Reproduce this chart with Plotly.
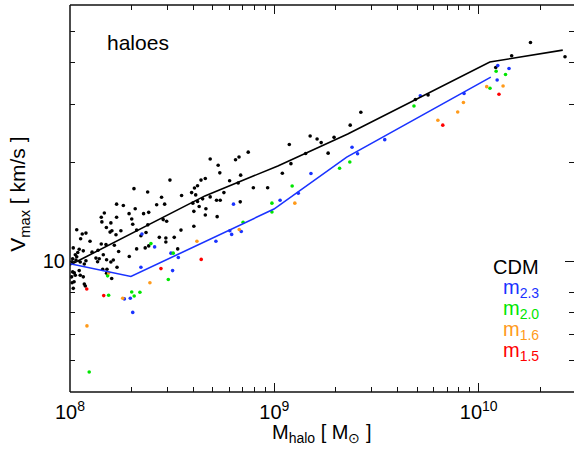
import plotly.graph_objects as go
import numpy as np

# ---- data (log10 values) ----
# CDM haloes (black dots)
cdm_logm = [10.253, 10.422, 10.161, 10.083, 9.752, 9.690, 9.423, 9.371, 9.292, 9.263,
            9.229, 9.209, 9.175, 9.153, 9.081, 9.073, 9.039, 8.967, 8.897, 8.872,
            8.827, 8.810, 8.835, 8.823, 8.781, 8.753, 8.733, 8.725, 8.686, 8.662,
            8.641, 8.735, 8.717, 8.624, 8.609, 8.595, 8.615, 8.601, 8.624, 8.649,
            8.686, 8.632, 8.606, 8.665, 8.662, 8.720, 8.833, 8.606, 8.313, 8.380,
            8.546, 8.489, 8.448, 8.228, 8.261, 8.424, 8.463, 8.168, 8.319, 8.385,
            8.360, 8.289, 8.153, 8.228, 8.302, 8.307, 8.200, 8.156, 8.456, 8.473,
            8.381, 8.033, 8.178, 8.196, 8.205, 8.249, 8.225, 8.060, 8.078, 8.052,
            8.098, 8.372, 8.347, 8.437, 8.469, 8.510, 8.543, 8.153, 8.137, 8.176,
            8.217, 8.238, 8.290, 8.326, 8.368, 8.385, 8.469, 8.527, 8.108, 8.127,
            8.143, 8.163, 8.179, 8.200, 8.045, 8.038, 8.065, 8.026, 8.013, 8.078,
            8.070, 8.010, 8.029, 8.050, 8.013, 8.021, 8.045, 8.050, 8.065, 8.010,
            8.016, 8.070, 8.075, 8.135, 8.160, 8.181, 8.179, 8.204, 8.230, 8.212,
            8.026, 8.008, 8.020, 8.016, 8.033, 8.326]
cdm_logv = [1.664, 1.621, 1.624, 1.588, 1.505, 1.491, 1.452, 1.413, 1.376, 1.328,
            1.360, 1.371, 1.380, 1.327, 1.296, 1.354, 1.267, 1.223, 1.223, 1.331,
            1.316, 1.308, 1.261, 1.237, 1.244, 1.208, 1.268, 1.291, 1.310, 1.251,
            1.246, 1.185, 1.185, 1.229, 1.222, 1.208, 1.201, 1.176, 1.181, 1.189,
            1.195, 1.166, 1.151, 1.159, 1.140, 1.135, 1.180, 1.106, 1.220, 1.210,
            1.199, 1.246, 1.194, 1.173, 1.169, 1.171, 1.173, 1.146, 1.159, 1.148,
            1.144, 1.144, 1.133, 1.133, 1.128, 1.112, 1.116, 1.119, 1.126, 1.121,
            1.110, 1.095, 1.102, 1.088, 1.092, 1.092, 1.080, 1.082, 1.085, 1.068,
            1.060, 1.087, 1.077, 1.072, 1.070, 1.072, 1.094, 1.052, 1.033, 1.050,
            1.048, 1.029, 1.014, 1.037, 1.040, 1.046, 1.058, 1.037, 1.027, 1.009,
            1.007, 1.019, 1.004, 0.997, 1.036, 1.026, 1.031, 1.019, 1.007, 1.001,
            0.991, 0.998, 1.003, 0.997, 0.967, 0.964, 0.971, 0.957, 0.952, 0.934,
            0.917, 0.930, 0.924, 0.998, 0.975, 0.975, 0.963, 0.947, 0.981, 1.003,
            0.957, 0.952, 0.937, 1.040, 1.013, 1.094]

# m2.3 (blue)
m23_logm = [10.093, 10.148, 10.090, 9.714, 9.928, 9.540, 9.407, 9.380, 9.179, 9.117,
            9.028, 8.800, 8.782, 8.791, 8.838, 8.714, 8.352, 8.414, 8.494, 8.530,
            8.347, 8.502, 8.266, 8.295, 8.307]
m23_logv = [1.594, 1.585, 1.550, 1.502, 1.509, 1.369, 1.326, 1.346, 1.266, 1.206,
            1.185, 1.173, 1.092, 1.081, 1.090, 1.060, 1.082, 1.043, 1.024, 1.011,
            0.981, 0.971, 0.885, 0.887, 0.844]

# m2.0 (green)
m20_logm = [10.085, 10.131, 10.055, 9.683, 9.369, 9.319, 9.087, 8.988, 8.988, 8.847,
            8.396, 8.505, 8.184, 8.189, 8.302, 8.314, 8.342, 8.481, 8.094]
m20_logv = [1.577, 1.567, 1.525, 1.471, 1.301, 1.282, 1.228, 1.176, 1.149, 1.118,
            1.053, 1.024, 0.955, 0.896, 0.906, 0.894, 0.905, 0.944, 0.663]

# m1.6 (orange)
m16_logm = [10.039, 10.119, 9.925, 9.897, 9.800, 9.100, 8.828, 8.621, 8.189, 8.391,
            8.258, 8.083]
m16_logv = [1.530, 1.532, 1.482, 1.453, 1.428, 1.176, 1.096, 1.060, 0.964, 0.934,
            0.887, 0.803]

# m1.5 (red)
m15_logm = [9.824, 10.099, 8.642, 8.445, 8.082, 8.165]
m15_logv = [1.413, 1.507, 1.005, 0.977, 0.915, 0.895]

# median relations
cdm_line_logm = [8.0, 8.660, 9.017, 9.359, 10.054, 10.411]
cdm_line_logv = [0.988, 1.198, 1.289, 1.386, 1.605, 1.641]
m23_line_logm = [8.0, 8.298, 8.998, 9.354, 10.059]
m23_line_logv = [0.992, 0.953, 1.158, 1.316, 1.559]

x_tickvals = [1e8, 1e9, 1e10]
x_ticktext = ["10<sup>8</sup>", "10<sup>9</sup>", "10<sup>10</sup>"]
x_minor = [2e8, 3e8, 4e8, 5e8, 6e8, 7e8, 8e8, 9e8,
           2e9, 3e9, 4e9, 5e9, 6e9, 7e9, 8e9, 9e9, 2e10]
y_tickvals = [10]
y_ticktext = ["10"]
y_minor = [5, 6, 7, 8, 20, 30, 40, 50]

legend_labels = ["CDM", "m<sub>2.3</sub>", "m<sub>2.0</sub>", "m<sub>1.6</sub>", "m<sub>1.5</sub>"]

BLACK = "#000000"
BLUE = "#1a33ff"
GREEN = "#00e600"
ORANGE = "#ff9a1a"
RED = "#ff0000"
legend_colors = [BLACK, BLUE, GREEN, ORANGE, RED]

def p(v):
    return [10 ** a for a in v]

FONT = "Liberation Sans, Arial, Helvetica, sans-serif"
AX = "#111111"

fig = go.Figure()
for lm, lv, c in [(cdm_logm, cdm_logv, BLACK), (m23_logm, m23_logv, BLUE),
                  (m20_logm, m20_logv, GREEN), (m16_logm, m16_logv, ORANGE),
                  (m15_logm, m15_logv, RED)]:
    fig.add_trace(go.Scatter(x=p(lm), y=p(lv), mode="markers",
                             marker=dict(color=c, size=3.6, line=dict(width=0)),
                             hoverinfo="skip"))

fig.add_trace(go.Scatter(x=p(cdm_line_logm), y=p(cdm_line_logv), mode="lines",
                         line=dict(color=BLACK, width=1.6), hoverinfo="skip"))
fig.add_trace(go.Scatter(x=p(m23_line_logm), y=p(m23_line_logv), mode="lines",
                         line=dict(color=BLUE, width=1.6), hoverinfo="skip"))

axis_common = dict(type="log", showgrid=False, zeroline=False, showline=False,
                   mirror="allticks",
                   ticks="inside", ticklen=9, tickwidth=1, tickcolor=AX,
                   tickfont=dict(family=FONT, size=20, color="black"))

fig.update_layout(
    width=574, height=451,
    margin=dict(l=70, r=0, t=5, b=59),
    paper_bgcolor="white", plot_bgcolor="white",
    showlegend=False,
    font=dict(family=FONT, color="black"),
    xaxis=dict(range=[8, 10.466], tickmode="array", tickvals=x_tickvals, ticktext=x_ticktext,
               minor=dict(ticks="inside", ticklen=5, tickwidth=1, tickcolor=AX,
                          tickmode="array", tickvals=x_minor, showgrid=False),
               ticklabelstandoff=6, **axis_common),
    yaxis=dict(range=[np.log10(4), np.log10(60)], tickmode="array", tickvals=y_tickvals,
               ticktext=y_ticktext,
               minor=dict(ticks="inside", ticklen=5, tickwidth=1, tickcolor=AX,
                          tickmode="array", tickvals=y_minor, showgrid=False),
               ticklabelstandoff=4, **axis_common),
)

# frame: left, bottom and top sides (right side lies just beyond the picture)
for x0, y0, x1, y1 in [(0, 0, 0, 1), (0, 0, 1, 0), (0, 1, 1, 1)]:
    fig.add_shape(type="line", xref="paper", yref="paper", x0=x0, y0=y0, x1=x1, y1=y1,
                  line=dict(color=AX, width=1.5), layer="above")

# panel label
fig.add_annotation(text="haloes", xref="paper", yref="paper", x=0.069, y=0.904,
                   xanchor="left", yanchor="middle", showarrow=False,
                   font=dict(family=FONT, size=21, color="black"))

# legend text
leg_y = [0.323, 0.268, 0.213, 0.159, 0.104]
for lab, col, yy in zip(legend_labels, legend_colors, leg_y):
    fig.add_annotation(text=lab, xref="paper", yref="paper", x=0.9345, y=yy,
                       xanchor="right", yanchor="middle", showarrow=False,
                       font=dict(family=FONT, size=20, color=col))

# axis titles
fig.add_annotation(text="M<sub>halo</sub> [ M<sub>⊙</sub> ]", xref="paper", yref="paper",
                   x=0.5, y=-0.069, xanchor="center", yanchor="top", showarrow=False,
                   font=dict(family=FONT, size=20, color="black"))
fig.add_annotation(text="V<sub>max</sub> [ km/s ]", xref="paper", yref="paper",
                   x=-0.101, y=0.51, xanchor="center", yanchor="middle", showarrow=False,
                   textangle=-90, font=dict(family=FONT, size=21, color="black"))

fig.write_html("out.html")
